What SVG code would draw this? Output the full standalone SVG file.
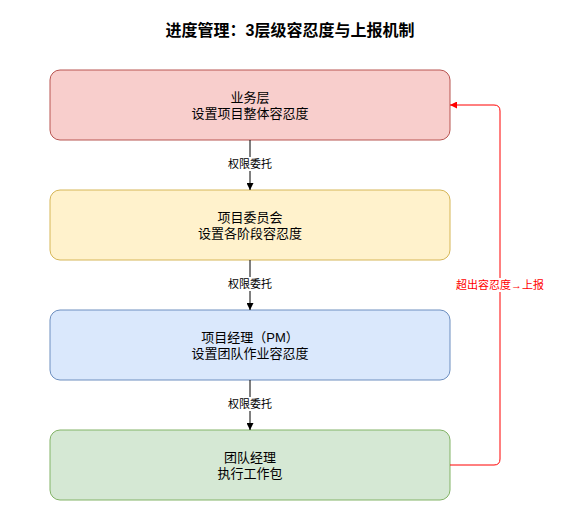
<svg xmlns="http://www.w3.org/2000/svg" width="582" height="513" viewBox="0 0 582 513">
<style>
text{font-family:"Liberation Sans","Noto Sans CJK SC",sans-serif;text-anchor:middle;}
.t{font-size:16px;font-weight:bold;fill:#000;}
.n{font-size:13px;fill:#000;}
.l{font-size:11px;fill:#000;}
.r{font-size:11px;fill:#ff0000;}
.e{stroke:#000;stroke-width:1;fill:none;}
</style>
<defs>
<marker id="ab" viewBox="0 0 10 10" refX="10" refY="5" markerWidth="7" markerHeight="7" markerUnits="userSpaceOnUse" orient="auto"><path d="M0,0L10,5L0,10z" fill="#000"/></marker>
<marker id="ar" viewBox="0 0 10 10" refX="10" refY="5" markerWidth="7" markerHeight="7" markerUnits="userSpaceOnUse" orient="auto"><path d="M0,0L10,5L0,10z" fill="#ff0000"/></marker>
</defs>
<rect width="582" height="513" fill="#fff"/>
<text class="t" x="290" y="36">进度管理：3层级容忍度与上报机制</text>
<g id="n1"><rect x="50" y="70" width="400" height="70" rx="10" fill="#f8cecc" stroke="#b85450"/><text class="n" x="250" y="102">业务层</text><text class="n" x="250" y="118">设置项目整体容忍度</text></g>
<g id="n2"><rect x="50" y="190" width="400" height="70" rx="10" fill="#fff2cc" stroke="#d6b656"/><text class="n" x="250" y="222">项目委员会</text><text class="n" x="250" y="238">设置各阶段容忍度</text></g>
<g id="n3"><rect x="50" y="310" width="400" height="70" rx="10" fill="#dae8fc" stroke="#6c8ebf"/><text class="n" x="250" y="342">项目经理（PM）</text><text class="n" x="250" y="358">设置团队作业容忍度</text></g>
<g id="n4"><rect x="50" y="430" width="400" height="70" rx="10" fill="#d5e8d4" stroke="#82b366"/><text class="n" x="250" y="462">团队经理</text><text class="n" x="250" y="478">执行工作包</text></g>
<g id="edges">
<path class="e" d="M250,140V190" marker-end="url(#ab)"/>
<path class="e" d="M250,260V310" marker-end="url(#ab)"/>
<path class="e" d="M250,380V430" marker-end="url(#ab)"/>
<rect x="222" y="157" width="56" height="14" fill="#fff"/><text class="l" x="250" y="168">权限委托</text>
<rect x="222" y="277" width="56" height="14" fill="#fff"/><text class="l" x="250" y="288">权限委托</text>
<rect x="222" y="397" width="56" height="14" fill="#fff"/><text class="l" x="250" y="408">权限委托</text>
<path d="M450,465H494Q500,465 500,459V111Q500,105 494,105H450" fill="none" stroke="#ff0000" stroke-width="1" marker-end="url(#ar)"/>
<rect x="454" y="278" width="92" height="14" fill="#fff"/><text class="r" x="500" y="289">超出容忍度→上报</text>
</g>
</svg>
